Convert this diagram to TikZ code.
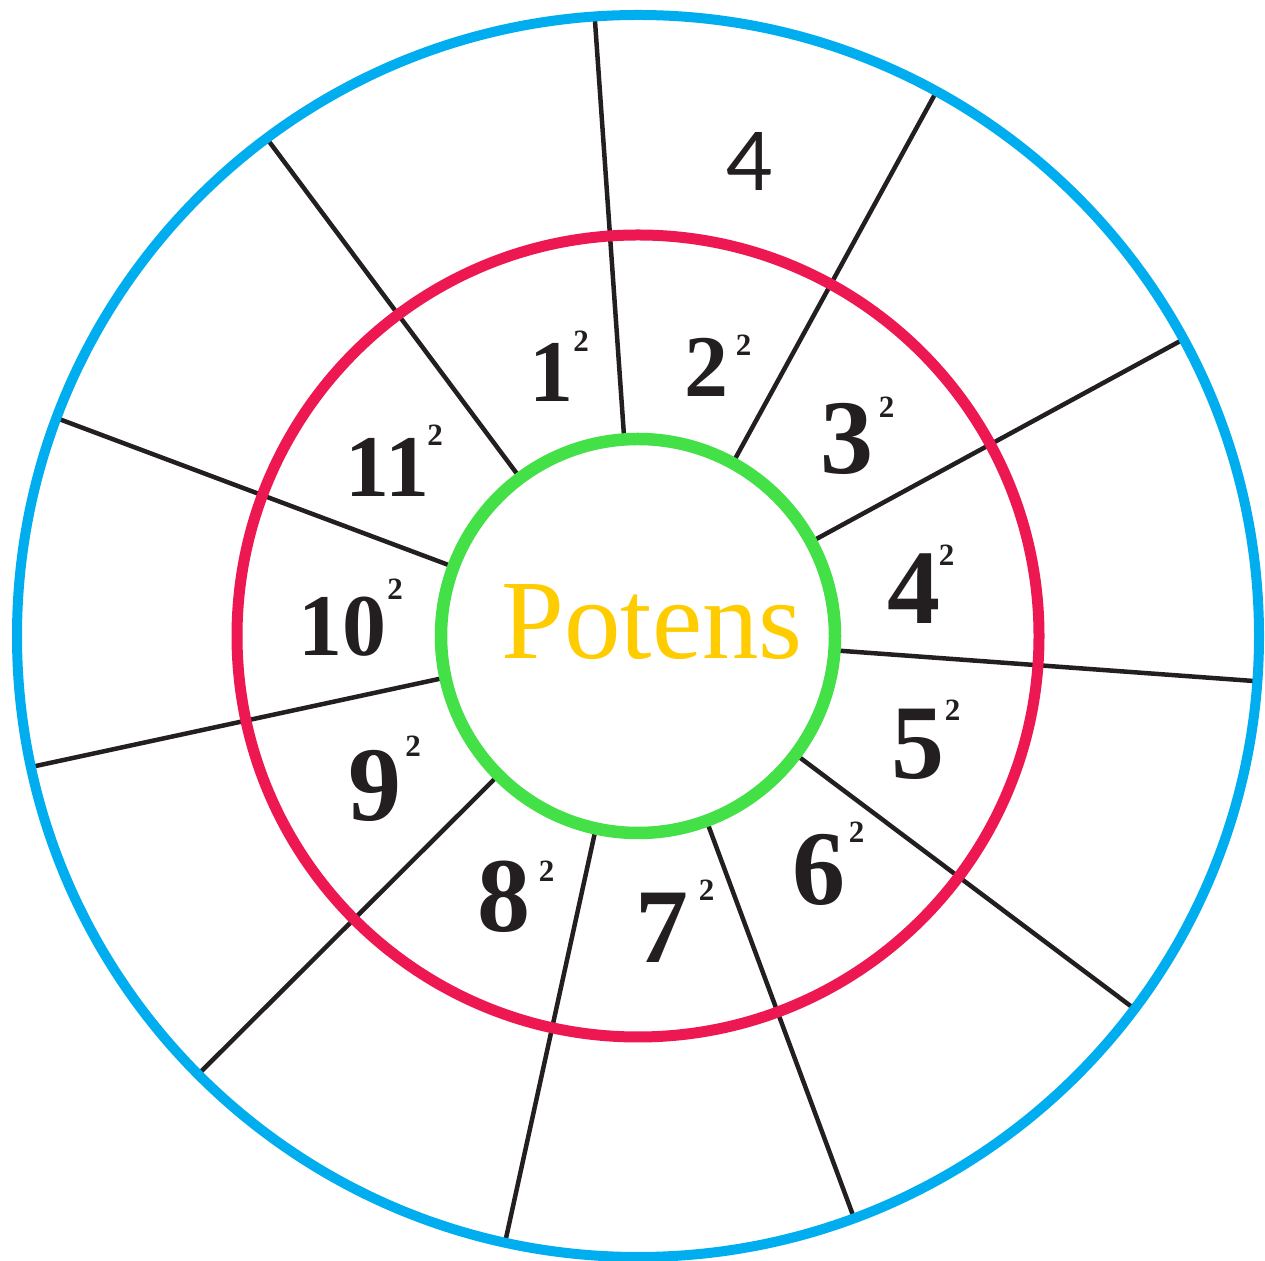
\documentclass[tikz,border=0pt]{standalone}
\usepackage{fontspec}
\usetikzlibrary{calc}
\setmainfont{Liberation Serif}
\newfontfamily\sansfnt{Lato}
\definecolor{ringblue}{RGB}{0,174,239}
\definecolor{ringred}{RGB}{237,24,81}
\definecolor{ringgreen}{RGB}{68,224,72}
\definecolor{txt}{RGB}{35,31,32}
\definecolor{gold}{RGB}{255,204,0}
\tikzset{
  spoke/.style={draw=txt,line width=4.5pt},
  bignum/.style={inner sep=0pt,text=txt,font=\fontsize{106}{106}\bfseries\selectfont},
  smallnum/.style={inner sep=0pt,text=txt,font=\fontsize{88}{88}\bfseries\selectfont},
  supnum/.style={inner sep=0pt,text=txt,font=\fontsize{31}{31}\bfseries\selectfont},
}
\begin{document}
\begin{tikzpicture}[x=1pt,y=1pt]
\useasboundingbox (0,0) rectangle (1265,1260);
\coordinate (C) at (638,624);
% spokes
\foreach \k in {0,...,10}{
  \pgfmathsetmacro{\ang}{94-\k*360/11}
  \draw[spoke] ($(C)+(\ang:197)$) -- ($(C)+(\ang:621)$);
}
% circles
\draw[ringblue,line width=10pt] (C) circle[radius=621];
\draw[ringred,line width=11pt] (C) circle[radius=401];
\draw[ringgreen,line width=12.5pt,fill=white] (C) circle[radius=197];
% centre text
\node[inner sep=0pt,text=gold,font=\fontsize{113}{113}\selectfont] (title) at (652,637.5) {Potens};
% outer label
\node[inner sep=0pt,text=txt,font=\sansfnt\fontsize{81}{81}\selectfont] (four) at (750,1098.5) {4};
% inner labels
\node[smallnum] (n1) at (551.5,888) {1};
\node[supnum] (s1) at (581,919) {2};
\node[smallnum] (n2) at (706.5,892.5) {2};
\node[supnum] (s2) at (743.5,915) {2};
\node[bignum] (n3) at (847,821) {3};
\node[supnum] (s3) at (886.5,853) {2};
\node[bignum] (n4) at (913.5,671) {4};
\node[supnum] (s4) at (946.5,705) {2};
\node[bignum] (n5) at (917.5,516) {5};
\node[supnum] (s5) at (952.5,550) {2};
\node[bignum] (n6) at (818.5,390) {6};
\node[supnum] (s6) at (856.5,427.5) {2};
\node[bignum] (n7) at (662,332.5) {7};
\node[supnum] (s7) at (706.5,370) {2};
\node[bignum] (n8) at (503.5,363.5) {8};
\node[supnum] (s8) at (546.5,389) {2};
\node[bignum] (n9) at (375,474.5) {9};
\node[supnum] (s9) at (413,514) {2};
\node[smallnum] (n10) at (342,633) {10};
\node[supnum] (s10) at (395,671) {2};
\node[smallnum] (n11) at (387.5,793) {11};
\node[supnum] (s11) at (435,825) {2};
\end{tikzpicture}
\end{document}
